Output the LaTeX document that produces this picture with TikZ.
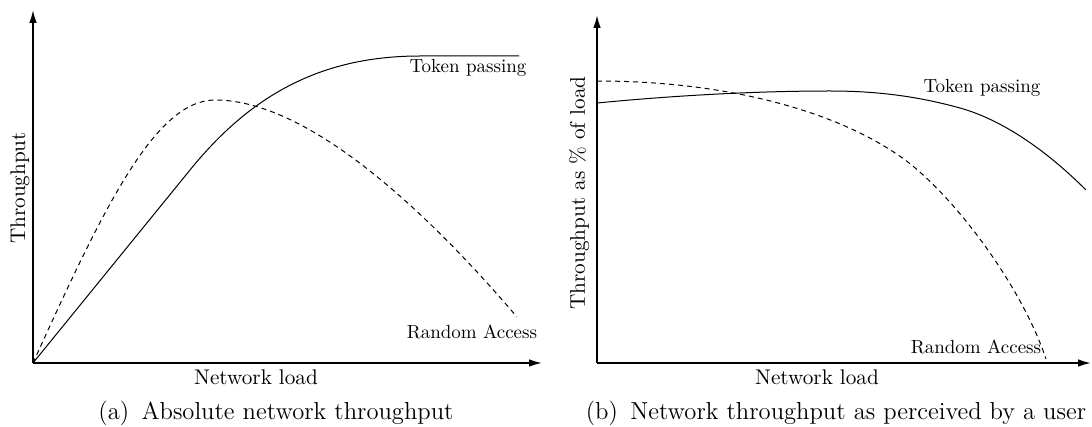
\documentclass[tikz,border=0pt]{standalone}
\usepackage{fontspec}
\usetikzlibrary{arrows.meta}
\tikzset{
  axis/.style={line width=0.8pt, -{Latex[length=6.5pt,width=3.8pt]}},
  tokencurve/.style={line width=0.5pt},
  randomcurve/.style={line width=0.5pt, dash pattern=on 2.5pt off 2pt},
  curvelabel/.style={inner sep=0pt, font=\fontsize{9.5}{11}\selectfont},
  axislabel/.style={inner sep=0pt, font=\fontsize{10.6}{12}\selectfont},
  caption/.style={inner sep=0pt, font=\fontsize{12.3}{14}\selectfont},
}
\begin{document}
\begin{tikzpicture}[x=0.5pt,y=-0.5pt]
\useasboundingbox (0,0) rectangle (1092,427);

% ---- (a) absolute throughput ----
\coordinate (oa) at (33,363);
\coordinate (ya) at (33,10);
\coordinate (xa) at (542,363);
\draw[axis] (oa) -- (ya);
\draw[axis] (oa) -- (xa);

% token passing: near-linear rise, then saturation
\draw[tokencurve] (oa) -- (190,170) .. controls (250,96) and (320,56) .. (420,56) -- (519,56);
% random access: fast rise, peak, then collapse
\draw[randomcurve] (oa) .. controls (103,209) and (155,100) .. (215,100)
  .. controls (310,100) and (430,215) .. (517,317);

\node[curvelabel] (tpa) at (468,68) {Token passing};
\node[curvelabel] (raa) at (472,332) {Random Access};
\node[axislabel, rotate=90] (ylaba) at (20,188) {Throughput};
\node[axislabel] (xlaba) at (256,377) {Network load};
\node[caption] (capa) at (276,413) {(a)\hspace{0.5em}Absolute network throughput};

% ---- (b) throughput relative to load ----
\coordinate (ob) at (597,363);
\coordinate (yb) at (597,15);
\coordinate (xb) at (1091,363);
\draw[axis] (ob) -- (yb);
\draw[axis] (ob) -- (xb);

\draw[randomcurve] (597,81) .. controls (720,81) and (831,108) .. (901,157)
  .. controls (951,192) and (1021,284) .. (1046,359);
\draw[tokencurve] (597,103) .. controls (680,95) and (760,91) .. (830,91)
  .. controls (880,91) and (920,97) .. (960,108)
  .. controls (1010,122) and (1056,160) .. (1086,190);

\node[curvelabel] (tpb) at (982,88) {Token passing};
\node[curvelabel] (rab) at (976,347) {Random Access};
\node[axislabel, rotate=90] (ylabb) at (579,193) {Throughput as \% of load};
\node[axislabel] (xlabb) at (817,377) {Network load};
\node[caption] (capb) at (836,413) {(b)\hspace{0.5em}Network throughput as perceived by a user};
\end{tikzpicture}
\end{document}
